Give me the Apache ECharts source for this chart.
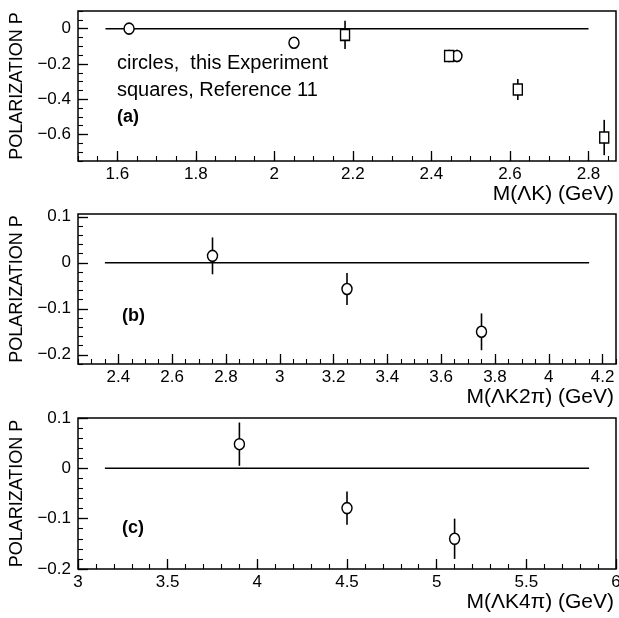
<!DOCTYPE html>
<html>
<head>
<meta charset="utf-8">
<script src="https://cdn.jsdelivr.net/npm/echarts@6.0.0/dist/echarts.min.js"></script>
<style>
  html, body { margin: 0; padding: 0; background: #fff; }
  #chart { width: 619px; height: 618px; }
</style>
</head>
<body>
<div id="chart"></div>
<script>
// ---- data ----
// panel (a): M(ΛK)
const circlesAX = [1.63, 2.05, 2.465];
const circlesAY = [0.0, -0.08, -0.155];
const circlesAErr = [0.025, 0.02, 0.035];
const squaresAX = [2.18, 2.445, 2.62, 2.84];
const squaresAY = [-0.035, -0.155, -0.345, -0.617];
const squaresAErr = [0.08, 0.035, 0.06, 0.1];
// panel (b): M(ΛK2π)
const circlesBX = [2.75, 3.25, 3.75];
const circlesBY = [0.015, -0.057, -0.15];
const circlesBErr = [0.04, 0.035, 0.04];
// panel (c): M(ΛK4π)
const circlesCX = [3.9, 4.5, 5.1];
const circlesCY = [0.048, -0.079, -0.14];
const circlesCErr = [0.043, 0.033, 0.04];

// zero reference lines (x start / end)
const zeroLineA = [1.57, 2.80];
const zeroLineB = [2.35, 4.15];
const zeroLineC = [3.15, 5.85];

// tick labels
const xTicksA = [1.6, 1.8, 2, 2.2, 2.4, 2.6, 2.8];
const yTicksA = [-0.6, -0.4, -0.2, 0];
const xTicksB = [2.4, 2.6, 2.8, 3, 3.2, 3.4, 3.6, 3.8, 4, 4.2];
const yTicksB = [-0.2, -0.1, 0, 0.1];
const xTicksC = [3, 3.5, 4, 4.5, 5, 5.5, 6];
const yTicksC = [-0.2, -0.1, 0, 0.1];

const FONT = '"Liberation Sans", Arial, sans-serif';

function steps(min, max, step) {
  // minor tick positions
  const out = [];
  const start = Math.ceil(min / step - 1e-9);
  for (let k = start; k * step <= max + 1e-9; k++) out.push(+(k * step).toFixed(4));
  return out;
}

function fmt(v) {
  return String(v).replace('-', '\u2212');
}

function zip3(xs, ys, es) {
  return xs.map((x, i) => [x, ys[i], es[i]]);
}

const panels = [
  { top: 11, height: 150, xMin: 1.5, xMax: 2.87, yMin: -0.75, yMax: 0.1,
    xTicks: xTicksA, yTicks: yTicksA, xMinor: 0.05, yMinor: 0.05,
    xName: 'M(\u039BK) (GeV)' },
  { top: 214, height: 150, xMin: 2.25, xMax: 4.25, yMin: -0.22, yMax: 0.106,
    xTicks: xTicksB, yTicks: yTicksB, xMinor: 0.05, yMinor: 0.02,
    xName: 'M(\u039BK2\u03C0) (GeV)' },
  { top: 418, height: 151, xMin: 3, xMax: 6, yMin: -0.2, yMax: 0.1,
    xTicks: xTicksC, yTicks: yTicksC, xMinor: 0.1, yMinor: 0.02,
    xName: 'M(\u039BK4\u03C0) (GeV)' }
];

const grid = [], xAxis = [], yAxis = [];
panels.forEach((p, g) => {
  grid.push({ left: 78, right: 3, top: p.top, height: p.height, show: true,
    outerBoundsMode: 'none', containLabel: false,
    borderColor: '#000', borderWidth: 1.5, backgroundColor: 'transparent' });
  // main x axis (labels + long ticks)
  xAxis.push({ type: 'value', gridIndex: g, min: p.xMin, max: p.xMax, position: 'bottom',
    axisLine: { show: false, onZero: false },
    axisTick: { show: true, inside: true, length: 10, customValues: p.xTicks,
      lineStyle: { color: '#000', width: 1.3 } },
    axisLabel: { customValues: p.xTicks, formatter: fmt, color: '#000',
      fontSize: 17, fontFamily: FONT, margin: 5 },
    splitLine: { show: false },
    name: p.xName, nameLocation: 'end', nameGap: -2,
    nameTextStyle: { color: '#000', fontSize: 21, fontFamily: FONT,
      align: 'right', verticalAlign: 'top', padding: [23, 0, 0, 0] }
  });
  // minor x ticks
  xAxis.push({ type: 'value', gridIndex: g, min: p.xMin, max: p.xMax, position: 'bottom',
    axisLine: { show: false, onZero: false },
    axisTick: { show: true, inside: true, length: 5,
      customValues: steps(p.xMin, p.xMax, p.xMinor),
      lineStyle: { color: '#000', width: 1.1 } },
    axisLabel: { show: false }, splitLine: { show: false }
  });
  yAxis.push({ type: 'value', gridIndex: g, min: p.yMin, max: p.yMax, position: 'left',
    axisLine: { show: false },
    axisTick: { show: true, inside: true, length: 10, customValues: p.yTicks,
      lineStyle: { color: '#000', width: 1.3 } },
    axisLabel: { customValues: p.yTicks, formatter: fmt, color: '#000',
      fontSize: 17, fontFamily: FONT, margin: 7 },
    splitLine: { show: false },
    name: 'POLARIZATION P', nameLocation: 'middle', nameGap: 52,
    nameTextStyle: { color: '#000', fontSize: 18, fontFamily: FONT }
  });
  yAxis.push({ type: 'value', gridIndex: g, min: p.yMin, max: p.yMax, position: 'left',
    axisLine: { show: false },
    axisTick: { show: true, inside: true, length: 5,
      customValues: steps(p.yMin, p.yMax, p.yMinor),
      lineStyle: { color: '#000', width: 1.1 } },
    axisLabel: { show: false }, splitLine: { show: false }
  });
});

function errorBars(g, data) {
  return {
    type: 'custom', xAxisIndex: g * 2, yAxisIndex: g * 2, z: 3,
    encode: { x: 0, y: 1 },
    data: data,
    renderItem: function (params, api) {
      const x = api.value(0), y = api.value(1), e = api.value(2);
      const a = api.coord([x, y + e]);
      const b = api.coord([x, y - e]);
      return { type: 'line', shape: { x1: a[0], y1: a[1], x2: b[0], y2: b[1] },
        style: { stroke: '#000', lineWidth: 1.6 } };
    }
  };
}

function markers(g, xs, ys, symbol, size) {
  return {
    type: 'scatter', xAxisIndex: g * 2, yAxisIndex: g * 2, z: 4,
    symbol: symbol, symbolSize: size,
    itemStyle: { color: '#fff', borderColor: '#000', borderWidth: 1.5, opacity: 1 },
    data: xs.map((x, i) => [x, ys[i]])
  };
}

function zeroLine(g, xr) {
  return {
    type: 'line', xAxisIndex: g * 2, yAxisIndex: g * 2, z: 2,
    symbol: 'none', silent: true,
    lineStyle: { color: '#000', width: 1.5 },
    data: [[xr[0], 0], [xr[1], 0]]
  };
}

const series = [
  zeroLine(0, zeroLineA),
  errorBars(0, zip3(circlesAX, circlesAY, circlesAErr)),
  errorBars(0, zip3(squaresAX, squaresAY, squaresAErr)),
  markers(0, circlesAX, circlesAY, 'circle', [10, 11]),
  markers(0, squaresAX, squaresAY, 'rect', [9, 11]),
  zeroLine(1, zeroLineB),
  errorBars(1, zip3(circlesBX, circlesBY, circlesBErr)),
  markers(1, circlesBX, circlesBY, 'circle', [10, 11]),
  zeroLine(2, zeroLineC),
  errorBars(2, zip3(circlesCX, circlesCY, circlesCErr)),
  markers(2, circlesCX, circlesCY, 'circle', [10, 11])
];

function label(text, x, y, size, weight) {
  return { type: 'text', x: x, y: y, z: 10,
    style: { text: text, fill: '#000', font: (weight || 'normal') + ' ' + size + 'px ' + FONT,
      textAlign: 'left', textVerticalAlign: 'middle', align: 'left', verticalAlign: 'middle' } };
}

const chart = echarts.init(document.getElementById('chart'), null, { renderer: 'canvas' });
chart.setOption({
  animation: false,
  backgroundColor: '#fff',
  grid: grid,
  xAxis: xAxis,
  yAxis: yAxis,
  series: series,
  graphic: [
    label('circles,  this Experiment', 117, 63, 20),
    label('squares, Reference 11', 117, 90, 20),
    label('(a)', 117, 117, 18, 'bold'),
    label('(b)', 122, 316, 18, 'bold'),
    label('(c)', 122, 528, 18, 'bold')
  ]
});
</script>
</body>
</html>
